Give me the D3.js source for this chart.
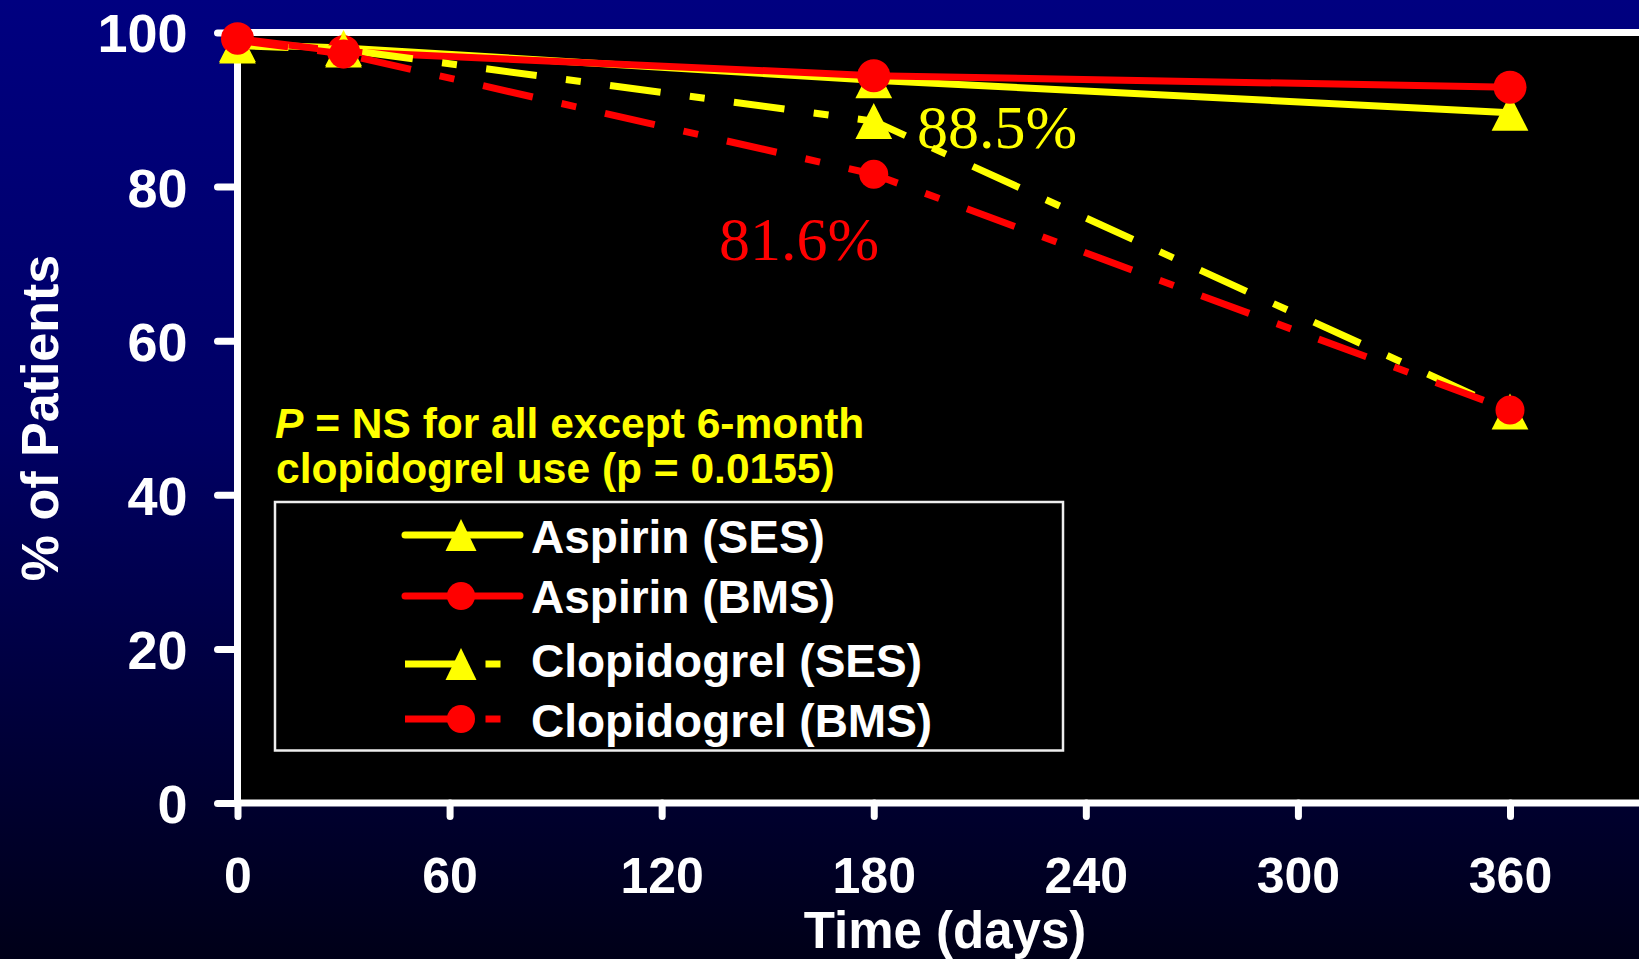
<html><head>
<title>Antiplatelet use after stenting</title>
<script src="https://d3js.org/d3.v7.min.js"></script>
<style>
  body { margin: 0; background: #000; overflow: hidden; }
  .bold { font-family: "Liberation Sans", Arial, sans-serif; font-weight: bold; }
  .serif { font-family: "Liberation Serif", "Times New Roman", serif; }
</style>
</head>
<body>
<svg id="chart" width="1639" height="959"></svg>

<script>
// values (% of patients still on each drug)
const days = [0, 30, 180, 360];
const aspirinSES = [98.5, 98.0, 93.8, 89.6];
const aspirinBMS = [99.2, 97.5, 94.4, 92.9];
const clopidogrelSES = [98.3, 97.8, 88.5, 50.8];
const clopidogrelBMS = [99.0, 97.2, 81.6, 51.0];

const seriesNames = ["Aspirin (SES)", "Aspirin (BMS)", "Clopidogrel (SES)", "Clopidogrel (BMS)"];
const xTicks = [0, 60, 120, 180, 240, 300, 360];
const yTicks = [0, 20, 40, 60, 80, 100];

const svg = d3.select("#chart");
const width = +svg.attr("width");
const height = +svg.attr("height");

const x = d3.scaleLinear().domain([0, 360]).range([237.5, 1510]);
const y = d3.scaleLinear().domain([0, 100]).range([803, 32.5]);

// background gradient
const defs = svg.append("defs");
const grad = defs.append("linearGradient").attr("id", "bg")
  .attr("x1", 0).attr("y1", 0).attr("x2", 0).attr("y2", 1);
grad.append("stop").attr("offset", "0%").attr("stop-color", "#000080");
grad.append("stop").attr("offset", "45%").attr("stop-color", "#000064");
grad.append("stop").attr("offset", "100%").attr("stop-color", "#000018");
svg.append("rect").attr("width", width).attr("height", height).attr("fill", "url(#bg)");

// plot area
const x0 = x(0), yTop = y(100), yBot = y(0);
svg.append("rect")
  .attr("x", x0).attr("y", yTop)
  .attr("width", width - x0).attr("height", yBot - yTop)
  .attr("fill", "#000");

// axes
const yAxis = svg.append("g")
  .attr("transform", "translate(" + x0 + ",0)")
  .call(d3.axisLeft(y).tickValues(yTicks).tickSize(20).tickPadding(30));
const xAxis = svg.append("g")
  .attr("transform", "translate(0," + yBot + ")")
  .call(d3.axisBottom(x).tickValues(xTicks).tickSize(13.5));

[yAxis, xAxis].forEach(function(ax) {
  ax.select(".domain").remove();
  ax.selectAll(".tick line")
    .attr("stroke", "white").attr("stroke-width", 7).attr("stroke-linecap", "round");
  ax.selectAll(".tick text").attr("class", "bold").attr("fill", "white");
});
yAxis.selectAll(".tick text").style("font-size", "54px").attr("dy", "0.36em");
xAxis.selectAll(".tick text").style("font-size", "50px").attr("dy", null).attr("y", 90);

// frame lines
svg.append("line").attr("x1", x0).attr("x2", width).attr("y1", yTop).attr("y2", yTop)
  .attr("stroke", "white").attr("stroke-width", 7);
svg.append("line").attr("x1", x0).attr("x2", width).attr("y1", yBot).attr("y2", yBot)
  .attr("stroke", "white").attr("stroke-width", 7);
svg.append("line").attr("x1", x0).attr("x2", x0).attr("y1", yTop - 3.5).attr("y2", yBot + 3.5)
  .attr("stroke", "white").attr("stroke-width", 7);

// axis titles
svg.append("text").attr("class", "bold")
  .attr("x", 945).attr("y", 948)
  .attr("text-anchor", "middle").attr("fill", "white").style("font-size", "51px")
  .text("Time (days)");
svg.append("text").attr("class", "bold")
  .attr("transform", "translate(58,418) rotate(-90)")
  .attr("text-anchor", "middle").attr("fill", "white").style("font-size", "52px")
  .text("% of Patients");

// series
const dashPattern = "51 29.5 15 29.5";
const series = [
  { name: seriesNames[0], values: aspirinSES, color: "#ffff00", dashed: false, marker: "tri", r: 18 },
  { name: seriesNames[1], values: aspirinBMS, color: "#ff0000", dashed: false, marker: "circle", r: 16.5 },
  { name: seriesNames[2], values: clopidogrelSES, color: "#ffff00", dashed: true, marker: "tri", r: 18 },
  { name: seriesNames[3], values: clopidogrelBMS, color: "#ff0000", dashed: true, marker: "circle", r: 14.5 }
];

const line = d3.line().x(d => x(d[0])).y(d => y(d[1]));

function triangle(w, h) {
  return "M0," + (-h / 2) + "L" + (w / 2) + "," + (h / 2) + "L" + (-w / 2) + "," + (h / 2) + "Z";
}

function drawMarker(g, s, cx, cy, r) {
  if (s.marker === "tri") {
    g.append("path").attr("d", triangle(r * 2.04, r * 2))
      .attr("transform", "translate(" + cx + "," + cy + ")")
      .attr("fill", s.color);
  } else {
    g.append("circle").attr("cx", cx).attr("cy", cy).attr("r", r).attr("fill", s.color);
  }
}

series.forEach(function(s) {
  const pts = days.map((d, i) => [d, s.values[i]]);
  const g = svg.append("g");
  g.append("path").attr("d", line(pts))
    .attr("fill", "none").attr("stroke", s.color).attr("stroke-width", 7)
    .attr("stroke-linejoin", "round")
    .attr("stroke-dasharray", s.dashed ? dashPattern : null);
  pts.forEach(p => drawMarker(g, s, x(p[0]), y(p[1]), s.r));
});

// value callouts
svg.append("text").attr("class", "serif").attr("x", 917).attr("y", 148)
  .attr("fill", "#ffff00").style("font-size", "62px").text("88.5%");
svg.append("text").attr("class", "serif").attr("x", 719).attr("y", 260)
  .attr("fill", "#ff0000").style("font-size", "62px").text("81.6%");

// p-value note
const note = svg.append("text").attr("class", "bold").attr("fill", "#ffff00").style("font-size", "42.5px");
const l1 = note.append("tspan").attr("x", 275).attr("y", 438);
l1.append("tspan").style("font-style", "italic").text("P");
l1.append("tspan").text(" = NS for all except 6-month");
note.append("tspan").attr("x", 276).attr("y", 483).text("clopidogrel use (p = 0.0155)");

// legend
const legend = svg.append("g");
legend.append("rect").attr("x", 275).attr("y", 502).attr("width", 788).attr("height", 248.5)
  .attr("fill", "#000").attr("stroke", "#eee").attr("stroke-width", 2.5);
const rowLine = [535, 596, 664, 719];
const rowText = [553, 613, 677, 737];
const legendR = [16, 14, 16, 14];
series.forEach(function(s, i) {
  legend.append("line").attr("x1", 405).attr("x2", 520).attr("y1", rowLine[i]).attr("y2", rowLine[i])
    .attr("stroke", s.color).attr("stroke-width", 7)
    .attr("stroke-linecap", s.dashed ? "butt" : "round")
    .attr("stroke-dasharray", s.dashed ? dashPattern : null);
  if (s.marker === "tri") {
    legend.append("path").attr("d", triangle(31, 32))
      .attr("transform", "translate(461," + rowLine[i] + ")").attr("fill", s.color);
  } else {
    legend.append("circle").attr("cx", 461).attr("cy", rowLine[i]).attr("r", legendR[i]).attr("fill", s.color);
  }
  legend.append("text").attr("class", "bold").attr("x", 531).attr("y", rowText[i])
    .attr("fill", "white").style("font-size", "46px").text(s.name);
});
</script>
</body>
</html>
